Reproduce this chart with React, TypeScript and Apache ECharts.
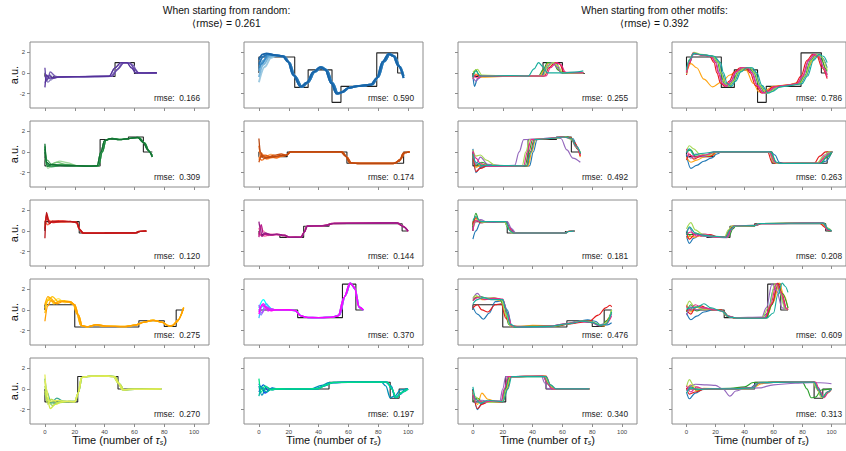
import React, { useEffect, useRef } from 'react';
import * as echarts from 'echarts';

type Pt = [number, number];

// ---------- tick values ----------
const X_TICKS = [0, 20, 40, 60, 80, 100];
const Y_TICKS = [-2, 0, 2];

// ---------- panel texts ----------
const titleLeft = ['When starting from random:', '\u27E8rmse\u27E9 = 0.261'];
const titleRight = ['When starting from other motifs:', '\u27E8rmse\u27E9 = 0.392'];
// rmse per row for columns 1..4
const rmseCol1 = ['0.166', '0.309', '0.120', '0.275', '0.270'];
const rmseCol2 = ['0.590', '0.174', '0.144', '0.370', '0.197'];
const rmseCol3 = ['0.255', '0.492', '0.181', '0.476', '0.340'];
const rmseCol4 = ['0.786', '0.263', '0.208', '0.609', '0.313'];

// ---------- target motifs (black step functions) ----------
const motif1a: Pt[] = [[0, 0], [0, -0.35], [47, -0.35], [47, 1.0], [60, 1.0], [60, -0.05], [75, -0.05]];
const motif1b: Pt[] = [[0, 0], [0, 1.55], [24, 1.55], [24, -1.4], [33, -1.4], [33, 0.3], [49, 0.3], [49, -2.85], [55, -2.85], [55, -1.3], [79, -1.3], [79, 1.95], [93, 1.95], [93, 0], [97, 0]];
const motif2a: Pt[] = [[0, 0], [0, -1.35], [37, -1.35], [37, 1.2], [56, 1.2], [56, 1.45], [66, 1.45], [66, 0], [72, 0]];
const motif2b: Pt[] = [[0, 0], [0, -0.45], [19, -0.45], [19, 0], [59, 0], [59, -1.1], [97, -1.1], [97, 0], [101, 0]];
const motif3a: Pt[] = [[0, 0], [0, 0.9], [23, 0.9], [23, -0.2], [62, -0.2], [62, -0.05], [68, -0.05]];
const motif3b: Pt[] = [[0, 0], [0, -0.35], [14, -0.35], [14, -0.62], [30, -0.62], [30, 0.45], [47, 0.45], [47, 0.7], [96, 0.7], [96, 0], [100, 0]];
const motif4a: Pt[] = [[0, 0], [0, 0.5], [20, 0.5], [20, -1.65], [63, -1.65], [63, -1.05], [80, -1.05], [80, -1.6], [88, -1.6], [88, 0], [93, 0]];
const motif4b: Pt[] = [[0, 0], [26, 0], [26, -0.75], [56, -0.75], [56, 2.5], [65, 2.5], [65, 0], [70, 0]];
const motif5a: Pt[] = [[0, 0], [0, -1.25], [22, -1.25], [22, 1.2], [49, 1.2], [49, 0], [78, 0]];
const motif5b: Pt[] = [[0, 0], [47, 0], [47, 0.65], [88, 0.65], [88, -0.9], [94, -0.9], [94, 0], [100, 0]];

// ---------- runs started from random states: early transients + settled paths ----------
const rand1aStarts: Pt[][] = [
  [[0, 0.1], [1.5, -0.5], [4, -0.2], [6, -0.5]],
  [[0, -1.0], [2, -0.3], [4, -0.7], [6, -0.4]],
  [[0, -0.3], [2, -0.9], [5, -0.5]],
  [[0, -0.6], [2, -0.6], [3.5, 0.1], [7, -0.3]],
  [[0, 0.5], [1, -0.8], [3, -0.2], [5, -0.55]],
  [[0, -1.4], [1, -0.2], [3, -0.5], [5, -0.45]],
];
const rand1aPaths: Pt[][] = [
  [[9, -0.42], [20, -0.38], [44, -0.33], [48, 0.25], [52, 0.95], [56, 1.0], [59, 0.75], [62, 0.05], [66, -0.05], [75, 0.0]],
  [[9, -0.4], [22, -0.36], [45, -0.33], [49, 0.4], [53, 1.0], [57, 0.95], [60, 0.4], [63, -0.02], [75, 0.0]],
  [[10, -0.38], [25, -0.35], [43, -0.32], [47, 0.5], [51, 1.0], [55, 1.0], [58, 0.5], [61, 0.0], [75, 0.02]],
];
const rand1aColors = ['#c4c2e0', '#a9a4d0', '#8d84c2', '#7a62b4', '#6446a6', '#55309a'];

const rand1bStarts: Pt[][] = [
  [[0, -0.9], [4, 0.6], [8, 1.45]],
  [[0, -0.4], [3, 0.8], [7, 1.55]],
  [[0, 0.2], [3, 1.2], [7, 1.7]],
  [[0, 0.5], [2, 0.9], [6, 1.75]],
  [[0, 0.8], [3, 1.6], [6, 1.85]],
  [[0, 1.3], [2.5, 1.8], [5, 1.9]],
];
const rand1bPaths: Pt[][] = [
  [[12, 1.7], [17, 1.6], [20.5, 1.0], [24, -0.3], [29, -1.35], [33, -0.9], [37.5, 0.1], [42, 0.55], [45.5, 0.3], [49.5, -1.0], [53, -2.0], [56, -1.85], [61, -1.4], [67, -1.27], [76, -1.12], [80, -0.4], [84, 1.1], [88, 1.85], [91, 1.6], [94.5, 0.6], [97, -0.3]],
  [[11, 1.72], [16, 1.62], [19.5, 1.1], [23, -0.2], [28, -1.35], [32, -0.95], [36.5, 0.1], [41, 0.55], [44.5, 0.3], [48.5, -1.0], [52, -2.0], [55, -1.9], [60, -1.45], [66, -1.28], [75, -1.15], [79, -0.5], [83, 1.1], [87, 1.85], [90, 1.65], [93.5, 0.7], [97, -0.5]],
];
const rand1bColors = ['#9ecae1', '#7bb7dc', '#5aa2d2', '#3a8bc6', '#2474b5', '#1864a8'];

const rand2aStarts: Pt[][] = [
  [[0, -0.6], [2, -1.6], [6, -1.1], [10, -0.9], [15, -1.05]],
  [[0, -0.2], [2, -1.3], [8, -1.0], [14, -1.2]],
  [[0, 0.6], [1.5, -0.8], [5, -1.3], [11, -1.2]],
  [[0, 0.5], [1, -1.2], [4, -1.45], [12, -1.3]],
  [[0, 0.3], [1.5, -1.4], [5, -1.2], [13, -1.35]],
  [[0, 0.8], [1, -1.0], [3, -1.2], [10, -1.3]],
];
const rand2aPaths: Pt[][] = [
  [[22, -1.35], [30, -1.38], [36, -1.34], [38.5, 0.0], [41, 1.15], [45, 1.32], [51, 1.22], [57, 1.32], [63, 1.4], [67, 0.85], [70, 0.0], [72, -0.35]],
  [[21, -1.33], [28, -1.38], [35, -1.36], [37.5, 0.0], [40, 1.1], [44, 1.3], [50, 1.2], [56, 1.3], [62, 1.42], [66, 0.9], [69, 0.2], [72, -0.5]],
];
const rand2aColors = ['#a1d99b', '#7cc67c', '#52b062', '#2f9950', '#1a843f', '#137034'];

const rand2bStarts: Pt[][] = [
  [[0, -0.8], [1.5, -0.1], [4, -0.5], [8, -0.25], [13, -0.5]],
  [[0, 0.1], [2, -0.2], [5, -0.7], [10, -0.5]],
  [[0, -0.5], [2, -0.8], [6, -0.4], [12, -0.6], [16, -0.3]],
  [[0, 0.6], [1.5, -0.5], [4, -0.3], [9, -0.55], [14, -0.4]],
  [[0, -1.0], [2, -0.3], [5, -0.6], [10, -0.3], [15, -0.2]],
  [[0, 1.3], [1, 0.0], [3, -0.6], [8, -0.5], [14, -0.35]],
];
const rand2bPaths: Pt[][] = [
  [[18.5, -0.3], [21.5, 0.02], [32, 0.0], [56, 0.0], [59, -0.5], [62, -1.08], [68, -1.1], [91, -1.1], [95, -0.7], [98, -0.05], [101, 0.0]],
  [[18, -0.35], [21, 0.0], [30, 0.0], [55, 0.02], [58, -0.4], [61, -1.05], [66, -1.12], [90, -1.12], [94, -0.9], [97, -0.1], [101, 0.0]],
];
const rand2bColors = ['#fdae6b', '#fd8d3c', '#f3701c', '#e05a0c', '#cc4f10', '#b84812'];

const rand3aStarts: Pt[][] = [
  [[0, 0.4], [1, 1.6], [3, 1.0], [7, 0.85]],
  [[0, 1.0], [2, 0.6], [5, 0.95], [12, 0.85]],
  [[0, 0.9], [1.5, 1.2], [4, 0.85], [9, 1.0]],
  [[0, 0.2], [1, 1.5], [2.5, 0.9], [6, 0.8], [12, 0.95]],
  [[0, -0.7], [1, 1.8], [3, 0.7], [5, 0.95], [10, 0.9]],
];
const rand3aPaths: Pt[][] = [
  [[18, 0.9], [21.5, 0.8], [23.5, 0.1], [26, -0.22], [40, -0.2], [61, -0.18], [64, -0.04], [68, 0.0]],
  [[17, 0.92], [21, 0.85], [23, 0.2], [25, -0.2], [30, -0.22], [60, -0.2], [63, -0.05], [68, -0.02]],
];
const rand3aColors = ['#fc9272', '#fb6a4a', '#ef3b2c', '#d42020', '#b8151a'];

const rand3bStarts: Pt[][] = [
  [[0, -0.5], [1, 0.4], [3, 0.0], [6, -0.45]],
  [[0, 0.3], [1.5, -0.4], [4, -0.5], [8, -0.3]],
  [[0, -0.2], [2, -0.5], [5, -0.25], [9, -0.4]],
  [[0, -0.6], [1.5, 0.6], [3, -0.3], [7, -0.4]],
  [[0, 0.9], [1, 0.2], [2, -0.5], [4, -0.2], [8, -0.35]],
];
const rand3bPaths: Pt[][] = [
  [[12, -0.3], [17, -0.4], [21, -0.62], [28.5, -0.6], [30.5, -0.1], [32.5, 0.48], [41, 0.5], [46, 0.55], [50, 0.74], [70, 0.76], [93, 0.78], [97, 0.4], [100, 0.0]],
  [[12, -0.35], [17, -0.45], [20, -0.6], [28, -0.62], [30, -0.2], [32, 0.45], [40, 0.5], [45, 0.55], [49, 0.72], [70, 0.75], [92, 0.78], [96, 0.5], [100, -0.05]],
];
const rand3bColors = ['#fa9fb5', '#f768a1', '#dd3497', '#b8188a', '#951c86'];

const rand4aStarts: Pt[][] = [
  [[0, 0.6], [2, 1.0], [5, 0.8], [9, 1.1], [13, 0.7]],
  [[0, 0.2], [3, 1.2], [6, 0.6], [10, 0.9]],
  [[0, -0.3], [2, 0.9], [5, 1.3], [9, 0.8], [13, 0.9]],
  [[0, 0.5], [2, 1.3], [4, 1.1], [7, 0.7], [12, 0.85]],
  [[0, -1.1], [2, 0.4], [4, 0.9], [8, 0.6], [12, 0.8]],
];
const rand4aPaths: Pt[][] = [
  [[17, 0.8], [20, 0.5], [22.5, -0.5], [25, -1.55], [29, -1.62], [35, -1.42], [41, -1.58], [53, -1.62], [61, -1.45], [67, -1.15], [73, -1.02], [79, -1.2], [83, -1.55], [86, -1.5], [89, -1.0], [93, 0.2]],
  [[16, 0.75], [19, 0.55], [21.5, -0.4], [24, -1.5], [28, -1.65], [34, -1.45], [40, -1.6], [52, -1.6], [60, -1.5], [66, -1.2], [72, -1.0], [78, -1.15], [82, -1.5], [85, -1.55], [88, -1.2], [93, 0.25]],
];
const rand4aColors = ['#ffe25a', '#ffd21a', '#ffbf00', '#ffac00', '#ff9d00'];

const rand4bStarts: Pt[][] = [
  [[0, 0.2], [3, 1.0], [6, 0.4], [9, 0.05]],
  [[0, -0.8], [2, 0.3], [5, 0.6], [8, 0.1]],
  [[0, 0.1], [1.5, -0.5], [4, 0.4], [8, 0.0]],
  [[0, 0.5], [2, -0.3], [5, 0.3], [8, 0.1]],
  [[0, -0.2], [3, 0.6], [6, -0.1], [8.5, 0.1]],
  [[0, -0.4], [2, 0.5], [5, 0.2], [8, -0.1]],
];
const rand4bPaths: Pt[][] = [
  [[11, 0.02], [20, 0.0], [24.5, -0.08], [28.5, -0.6], [33, -0.74], [41, -0.74], [49, -0.7], [54, -0.5], [58, 1.4], [61.5, 2.6], [64.5, 2.0], [67.5, 0.2], [70, 0.0]],
  [[11, 0.0], [20, 0.02], [24, -0.05], [28, -0.55], [32, -0.72], [40, -0.75], [48, -0.72], [53, -0.6], [57, 1.2], [61, 2.6], [64, 2.2], [67, 0.3], [70, 0.0]],
];
const rand4bColors = ['#00ffff', '#40c0ff', '#8080ff', '#b34cff', '#d926ff', '#ff00ff'];

const rand5aStarts: Pt[][] = [
  [[0, 1.0], [1.5, -0.3], [4, -1.4], [8, -0.9], [13, -1.25]],
  [[0, -0.5], [2, -1.0], [6, -1.4], [11, -1.15]],
  [[0, 0.3], [2, -1.2], [5, -1.6], [9, -1.3]],
  [[0, -0.2], [2, -1.5], [4, -1.0], [9, -1.35]],
  [[0, 0.8], [1.5, -0.8], [3.5, -1.9], [7, -1.5], [12, -1.2]],
  [[0, 1.4], [1, 0.0], [3, -1.2], [8, -1.1], [14, -1.2]],
];
const rand5aPaths: Pt[][] = [
  [[17, -1.22], [20.5, -1.2], [22.5, -0.3], [25, 1.15], [31, 1.22], [41, 1.28], [47, 1.2], [50, 0.5], [53, -0.08], [60, -0.03], [78, 0.0]],
  [[16, -1.2], [20, -1.25], [22, -0.5], [24.5, 1.1], [30, 1.25], [40, 1.25], [46, 1.2], [49, 0.6], [52, -0.1], [56, -0.05], [78, 0.0]],
];
const rand5aColors = ['#3aa88e', '#6cc47a', '#9ad65e', '#bde24e', '#d3e84a', '#e2ec5a'];

const rand5bStarts: Pt[][] = [
  [[0, 0.5], [2, 0.1], [4, -0.4], [8, 0.0]],
  [[0, -0.3], [3, 0.4], [6, -0.15], [9, 0.1]],
  [[0, 0.3], [2, -0.6], [5, 0.2], [9, -0.1]],
  [[0, -0.7], [2, 0.2], [5, -0.3], [9, 0.05]],
  [[0, 1.0], [1.5, -0.3], [4, 0.3], [8, -0.1]],
];
const rand5bPaths: Pt[][] = [
  [[12, -0.05], [22, -0.02], [38, 0.0], [44, 0.3], [49, 0.62], [62, 0.66], [85, 0.66], [88.5, 0.3], [91.5, -0.85], [95, -0.5], [98, -0.05], [100, 0.0]],
  [[12, 0.02], [24, 0.0], [40, 0.02], [45, 0.4], [50, 0.63], [70, 0.66], [86, 0.66], [89, 0.0], [92, -0.85], [96, -0.3], [100, 0.0]],
  [[12, 0.0], [20, -0.05], [35, 0.0], [42, 0.35], [47, 0.6], [60, 0.65], [82, 0.68], [85, 0.3], [88, -0.85], [91, -0.7], [95, -0.1], [100, 0.0]],
];
const rand5bColors = ['#0022ff', '#0060d0', '#0090b8', '#00b8a0', '#00e088'];

// ---------- runs started from other motifs (one line per starting motif) ----------
// colour order: blue, orange, green, red, purple, yellow-green, magenta, teal
const motifColors = ['#1f77b4', '#ffa514', '#2ca02c', '#e41a1c', '#9467bd', '#a6d854', '#e7298a', '#17ad9c'];

const other1a: Pt[][] = [
  [[0, -0.3], [1, -1.3], [3, -0.6], [6, -0.35], [20, -0.32], [46, -0.3], [49, 0.4], [53, 1.0], [56, 0.9], [59, 0.1], [62, 0.0], [74, 0.0]],
  [[0, -0.5], [2, -0.1], [5, -0.4], [20, -0.35], [45, -0.3], [48, 0.4], [51, 1.0], [55, 1.0], [58, 0.2], [61, 0.0], [74, 0.0]],
  [[0, -0.2], [2, 0.3], [4, -0.2], [8, -0.35], [30, -0.3], [44, -0.3], [47, 0.3], [50, 1.0], [54, 1.0], [57, 0.3], [60, 0.0], [74, 0.0]],
  [[0, -0.6], [2, -0.2], [6, -0.3], [30, -0.3], [48, -0.3], [51, 0.5], [55, 1.0], [58, 0.9], [61, 0.1], [64, 0.0], [74, 0.0]],
  [[0, -0.4], [2, -0.8], [5, -0.3], [25, -0.3], [47, -0.3], [50, 0.7], [53, 1.0], [57, 0.5], [59, 0.0], [74, 0.0]],
  [[0, 0.1], [3, 0.35], [6, -0.2], [25, -0.3], [47, -0.3], [50, 0.6], [54, 1.0], [57, 0.7], [60, 0.0], [74, 0.0]],
  [[0, -0.1], [3, -0.5], [7, -0.3], [30, -0.3], [49, -0.3], [52, 0.5], [56, 1.0], [59, 0.8], [62, 0.05], [74, 0.02]],
  [[0, -0.4], [2, 0.2], [5, -0.3], [10, -0.3], [25, -0.25], [37, -0.3], [41, 0.4], [44, 1.0], [47, 0.6], [50, 0.0], [60, 0.0], [70, 0.1], [74, 0.2]],
];

const other1b: Pt[][] = [
  [[0, 0.3], [2, 1.0], [5, 1.85], [10, 1.78], [18.5, 1.62], [22.5, 1.0], [24.5, 0.0], [27, -1.0], [30, -1.3], [33, -0.8], [36.5, 0.1], [40.5, 0.5], [44.5, 0.5], [47.5, 0.0], [51, -1.2], [55.5, -1.95], [58.5, -1.8], [63.5, -1.35], [71.5, -1.2], [78.5, -1.05], [82.5, -0.3], [86.5, 1.2], [90.5, 1.8], [93.5, 1.5], [97, 0.5]],
  [[0, 0.0], [3, 0.9], [7, 0.5], [12, -0.6], [18, -1.35], [24, -0.9], [30, -0.2], [36, 0.3], [41, 0.3], [46, -1.0], [50, -1.85], [54, -1.7], [60, -1.3], [70, -1.15], [78, -0.9], [84, 0.6], [89, 1.8], [93, 1.2], [97, -0.2]],
  [[0, 0.2], [2, 1.2], [5, 1.9], [10, 1.78], [18, 1.62], [21.5, 1.0], [23.5, 0.0], [26, -1.0], [29, -1.3], [32, -0.8], [35.5, 0.1], [39.5, 0.5], [43.5, 0.5], [46.5, 0.0], [50, -1.2], [54.5, -1.95], [57.5, -1.8], [62.5, -1.35], [70.5, -1.2], [77.5, -1.05], [81.5, -0.3], [85.5, 1.2], [89.5, 1.8], [92.5, 1.6], [96, 0.4], [97, 0.15]],
  [[0, -0.2], [2, 0.9], [4.5, 1.9], [10, 1.75], [16, 1.62], [19, 1.0], [21, 0.0], [23.5, -1.0], [26.5, -1.3], [29.5, -0.8], [33, 0.1], [37, 0.5], [41, 0.5], [44, 0.0], [47.5, -1.2], [52, -1.95], [55, -1.8], [60, -1.35], [68, -1.2], [75, -1.05], [79, -0.3], [83, 1.2], [87, 1.8], [90, 1.6], [93.5, 0.5], [97, -0.55]],
  [[0, 0.1], [2, 1.1], [5, 1.9], [10, 1.78], [17, 1.62], [20.5, 1.0], [22.5, 0.0], [25, -1.0], [28, -1.3], [31, -0.8], [34.5, 0.1], [38.5, 0.5], [42.5, 0.5], [45.5, 0.0], [49, -1.2], [53.5, -1.95], [56.5, -1.8], [61.5, -1.35], [69.5, -1.2], [76.5, -1.05], [80.5, -0.3], [84.5, 1.2], [88.5, 1.8], [91.5, 1.6], [95, 0.4], [97, -0.2]],
  [[0, -0.1], [2, 1.3], [5, 2.0], [10, 1.8], [18, 1.62], [22, 1.0], [24, 0.0], [26.5, -1.0], [29.5, -1.3], [32.5, -0.8], [36, 0.1], [40, 0.5], [44, 0.5], [47, 0.0], [50.5, -1.2], [55, -1.95], [58, -1.8], [63, -1.35], [71, -1.2], [78, -1.05], [82, -0.3], [86, 1.2], [90, 1.8], [93, 1.55], [97, 0.3]],
  [[0, 0.0], [2, 1.0], [4.5, 1.92], [10, 1.75], [17, 1.62], [20, 1.0], [22, 0.0], [24.5, -1.0], [27.5, -1.3], [30.5, -0.8], [34, 0.1], [38, 0.5], [42, 0.5], [45, 0.0], [48.5, -1.2], [53, -1.95], [56, -1.8], [61, -1.35], [69, -1.2], [76, -1.05], [80, -0.3], [84, 1.2], [88, 1.8], [91, 1.6], [94.5, 0.5], [97, -0.4]],
  [[0, 0.3], [2, 1.3], [5, 1.9], [10, 1.78], [19, 1.62], [23.5, 1.0], [25.5, 0.0], [28, -1.0], [31, -1.3], [34, -0.8], [37.5, 0.1], [41.5, 0.5], [45.5, 0.5], [48.5, 0.0], [52, -1.2], [56.5, -1.95], [59.5, -1.8], [64.5, -1.35], [72.5, -1.2], [79.5, -1.05], [83.5, -0.3], [87.5, 1.2], [91.5, 1.8], [94.5, 1.6], [97, 1.0]],
];

const other2a: Pt[][] = [
  [[0, 0.3], [2, -2.0], [5, -1.5], [12, -1.3], [38, -1.35], [40.5, 0.0], [43, 1.2], [55, 1.35], [63, 1.45], [67, 1.3], [70, 0.5], [72, -0.2]],
  [[0, -0.3], [2, -1.5], [6, -1.2], [14, -1.35], [37, -1.35], [39.5, 0.0], [42, 1.2], [52, 1.3], [62, 1.45], [66, 1.35], [69, 0.6], [72, -0.5]],
  [[0, -0.1], [2, -1.3], [6, -1.0], [12, -1.35], [35, -1.35], [37.5, 0.0], [40, 1.2], [50, 1.3], [58, 1.4], [64, 1.45], [67, 1.1], [70, 0.3], [72, -0.2]],
  [[0, 0.0], [2, -1.9], [5, -1.6], [10, -1.3], [36, -1.35], [38.5, 0.0], [41, 1.2], [52, 1.3], [60, 1.45], [65, 1.4], [68, 0.9], [72, -0.4]],
  [[0, 0.0], [2, -1.2], [5, -0.5], [10, -1.2], [20, -1.35], [28, -1.3], [31, 0.0], [34, 1.2], [45, 1.3], [55, 1.4], [59, 1.3], [63, 0.2], [67, -0.6], [72, -1.0]],
  [[0, 0.2], [2, -0.4], [5, -0.3], [9, -0.8], [15, -1.3], [33, -1.35], [35.5, 0.0], [38, 1.2], [48, 1.3], [56, 1.35], [62, 1.45], [66, 1.2], [69, 0.5], [72, 0.0]],
  [[0, 0.1], [2, -0.6], [5, -1.1], [10, -1.4], [34, -1.35], [36.5, 0.0], [39, 1.2], [50, 1.3], [60, 1.45], [66, 1.3], [69, 0.5], [72, -0.3]],
  [[0, -0.2], [2, -1.0], [6, -1.3], [36, -1.35], [39, 0.0], [41.5, 1.2], [52, 1.3], [61, 1.45], [66, 1.3], [69, 0.6], [72, -0.1]],
];

const other2b: Pt[][] = [
  [[0, -0.3], [3, -1.6], [7, -1.3], [12, -0.9], [17, -0.6], [21, -0.2], [24, 0.0], [58, 0.0], [61, -0.3], [64, -1.0], [67, -1.12], [92, -1.1], [96, -0.9], [100, -0.1]],
  [[0, -0.5], [3, -1.0], [7, -0.8], [12, -0.5], [18, -0.35], [21, 0.0], [58, 0.0], [61, -1.0], [64, -1.12], [90, -1.1], [95, -0.6], [99, 0.0]],
  [[0, 0.0], [3, 0.2], [6, -0.4], [13, -0.35], [20, 0.0], [58, 0.0], [62, -1.0], [65, -1.1], [92, -1.1], [97, -0.5], [100, -0.1]],
  [[0, -0.8], [2, -0.2], [5, -0.7], [10, -0.4], [17, -0.4], [20, 0.0], [56, 0.0], [59, -1.0], [62, -1.12], [88, -1.1], [92, -0.4], [96, 0.0], [100, 0.0]],
  [[0, -0.2], [3, -0.6], [6, -0.2], [12, -0.45], [19, 0.0], [57, 0.0], [60, -0.9], [63, -1.12], [91, -1.1], [95, -0.3], [99, 0.0]],
  [[0, 0.1], [2, 0.6], [5, 0.3], [9, -0.2], [15, -0.35], [20, 0.0], [57, 0.0], [60, -1.0], [63, -1.12], [90, -1.1], [94, -0.5], [98, 0.0], [100, 0.0]],
  [[0, 0.3], [2, -0.3], [6, -0.5], [12, -0.3], [20, 0.0], [57, 0.0], [61, -1.0], [64, -1.1], [91, -1.1], [96, -0.4], [100, 0.0]],
  [[0, -0.1], [2, 0.3], [5, -0.3], [10, -0.15], [20, 0.0], [58, 0.0], [62, -1.0], [65, -1.12], [93, -1.1], [97, -0.4], [100, 0.0]],
];

const other3a: Pt[][] = [
  [[0, -0.8], [2, 0.0], [5, 0.8], [10, 0.9], [22, 0.9], [25, 0.3], [28, -0.2], [40, -0.2], [62, -0.2], [64, -0.05], [68, 0.0]],
  [[0, 0.8], [2, 1.2], [5, 0.85], [12, 0.92], [21, 0.9], [24, 0.4], [27, -0.2], [45, -0.2], [62, -0.2], [64, -0.04], [68, -0.02]],
  [[0, 0.4], [2, 1.7], [4, 1.0], [8, 0.85], [21, 0.9], [24, 0.2], [27, -0.2], [45, -0.21], [62, -0.2], [64, -0.05], [68, 0.0]],
  [[0, 0.6], [2, 1.3], [5, 0.8], [12, 0.92], [22, 0.9], [25, 0.1], [28, -0.2], [45, -0.2], [62, -0.18], [64, -0.04], [68, 0.0]],
  [[0, 0.2], [2, 0.9], [5, 1.1], [10, 0.85], [23, 0.9], [26, 0.2], [29, -0.22], [45, -0.2], [62, -0.2], [64, -0.05], [68, 0.0]],
  [[0, 0.5], [3, 1.1], [6, 0.85], [14, 0.92], [21, 0.9], [23.5, 0.4], [26, -0.2], [45, -0.2], [62, -0.2], [64, -0.05], [68, 0.0]],
  [[0, 0.0], [1.5, 1.0], [4, 0.95], [10, 0.88], [22, 0.92], [24.5, 0.3], [27.5, -0.2], [45, -0.2], [62, -0.2], [64, -0.05], [68, -0.02]],
  [[0, 1.0], [2, 1.4], [5, 0.9], [12, 0.9], [22, 0.9], [25, 0.0], [27, -0.2], [45, -0.2], [62, -0.2], [64, -0.05], [68, 0.0]],
];

const other3b: Pt[][] = [
  [[0, -0.5], [2, -1.2], [5, -0.7], [10, -0.3], [16, -0.45], [22, -0.62], [28, -0.6], [30, 0.0], [33, 0.48], [46, 0.5], [50, 0.72], [90, 0.75], [94, 0.7], [97, 0.2], [100, 0.0]],
  [[0, -0.7], [3, -0.5], [6, -0.6], [12, -0.35], [20, -0.55], [27, -0.62], [30, 0.2], [32, 0.5], [47, 0.5], [50, 0.72], [93, 0.76], [96, 0.3], [99, 0.0]],
  [[0, 0.0], [2, -0.4], [6, -0.2], [12, -0.5], [20, -0.55], [29, -0.62], [32, 0.2], [34, 0.5], [48, 0.55], [52, 0.72], [95, 0.76], [98, 0.0], [100, 0.0]],
  [[0, -0.2], [2, -0.8], [6, -0.3], [10, -0.5], [16, -0.35], [22, -0.6], [27, -0.6], [29, 0.0], [32, 0.45], [46, 0.5], [49, 0.7], [92, 0.76], [95, 0.4], [99, 0.0]],
  [[0, -0.1], [2, 0.3], [5, -0.3], [10, -0.45], [18, -0.6], [28, -0.65], [31, 0.1], [33, 0.5], [46, 0.5], [50, 0.7], [94, 0.78], [98, 0.2], [100, 0.0]],
  [[0, 0.2], [3, 0.8], [6, 0.1], [11, -0.3], [18, -0.55], [26, -0.62], [29, 0.1], [31, 0.45], [47, 0.52], [50, 0.72], [93, 0.76], [97, 0.3], [100, 0.0]],
  [[0, -0.3], [3, -0.1], [7, -0.5], [13, -0.3], [20, -0.6], [28, -0.6], [31, 0.2], [33, 0.5], [48, 0.55], [51, 0.72], [94, 0.78], [97, 0.1], [100, 0.0]],
  [[0, -0.4], [2, 0.4], [6, -0.2], [11, -0.4], [18, -0.5], [27, -0.6], [30, 0.1], [33, 0.48], [47, 0.52], [50, 0.72], [94, 0.77], [98, 0.15], [100, 0.0]],
];

const other4a: Pt[][] = [
  [[0, 0.3], [3, -0.4], [7, -0.9], [11, -0.3], [15, 0.8], [20, 0.9], [23, 0.0], [26, -1.5], [30, -1.65], [55, -1.6], [63, -1.35], [70, -1.1], [77, -0.95], [82, -1.1], [86, -1.5], [90, -1.45], [93, -1.25]],
  [[0, 1.0], [3, 1.3], [6, 1.0], [12, 1.1], [19, 0.9], [22, -0.6], [25, -1.5], [30, -1.62], [40, -1.5], [55, -1.55], [65, -1.3], [72, -1.1], [78, -1.1], [84, -1.45], [88, -1.55], [91, -0.8], [93, -0.3]],
  [[0, 0.9], [2, 1.2], [5, 1.3], [10, 1.1], [18, 1.05], [21, 0.3], [24, -1.4], [28, -1.65], [40, -1.6], [55, -1.6], [66, -1.3], [74, -1.1], [80, -1.25], [86, -1.55], [90, -1.0], [93, 0.0]],
  [[0, 0.2], [3, 0.5], [6, 0.0], [10, -0.2], [15, 0.5], [19, 0.6], [22, -0.8], [26, -1.6], [40, -1.6], [55, -1.55], [65, -1.35], [72, -1.2], [78, -1.1], [84, -0.5], [89, 0.2], [92, 0.45], [93, 0.3]],
  [[0, 1.1], [3, 1.6], [6, 1.2], [12, 1.15], [20, 1.0], [23, -0.2], [26, -1.5], [30, -1.65], [50, -1.6], [64, -1.3], [72, -1.1], [79, -1.2], [84, -1.5], [89, -1.3], [93, -0.4]],
  [[0, 1.2], [2, 1.4], [6, 1.1], [14, 1.2], [19, 1.0], [22, -0.4], [25, -1.55], [30, -1.6], [52, -1.6], [65, -1.3], [72, -1.1], [80, -1.15], [86, -1.5], [90, -1.2], [93, 0.0]],
  [[0, 0.9], [3, 1.2], [8, 1.0], [14, 1.15], [20, 1.05], [23, -0.3], [26, -1.55], [31, -1.62], [50, -1.6], [64, -1.3], [72, -1.15], [80, -1.2], [85, -1.55], [89, -1.4], [93, -0.6]],
  [[0, 0.6], [3, 1.0], [7, 1.2], [12, 1.0], [20, 1.0], [22, 0.1], [25, -1.4], [29, -1.65], [50, -1.6], [66, -1.3], [73, -1.1], [80, -1.2], [85, -1.5], [89, -1.4], [93, -0.2]],
];

const other4b: Pt[][] = [
  [[0, -0.3], [3, -0.95], [7, -0.6], [12, -0.2], [18, 0.0], [24, -0.05], [28, -0.6], [33, -0.75], [52, -0.75], [56, -0.3], [60, 2.0], [62, 2.55], [65, 1.5], [68, 0.2], [70, 0.05]],
  [[0, 0.5], [3, -0.2], [7, 0.3], [12, 0.1], [20, 0.0], [25, -0.1], [29, -0.65], [34, -0.8], [55, -0.75], [60, 0.8], [64, 2.6], [67, 1.5], [70, 0.15]],
  [[0, -0.2], [3, 0.5], [7, -0.1], [12, 0.2], [20, 0.0], [25, -0.05], [29, -0.62], [34, -0.8], [55, -0.75], [59, 0.5], [63, 2.5], [66, 1.6], [70, 0.2]],
  [[0, 0.0], [3, -0.4], [6, 0.2], [10, 0.4], [16, 0.05], [24, 0.0], [28, -0.6], [34, -0.8], [54, -0.75], [59, 0.6], [63, 2.6], [66, 1.5], [69, 0.1], [70, 0.0]],
  [[0, -0.5], [3, 0.3], [7, 0.0], [12, 0.2], [20, 0.0], [25, -0.1], [28, -0.6], [33, -0.75], [52, -0.7], [55, 0.2], [59, 2.5], [62, 1.9], [66, 0.2], [70, 0.0]],
  [[0, 0.2], [2, 0.85], [5, 0.4], [10, 0.1], [18, 0.05], [24, -0.05], [28, -0.6], [34, -0.78], [52, -0.75], [57, 0.3], [61, 2.55], [64, 1.9], [68, 0.1], [70, 0.0]],
  [[0, 0.4], [2, 0.0], [6, 0.5], [11, 0.2], [20, 0.0], [25, -0.1], [29, -0.6], [34, -0.78], [54, -0.75], [58, 0.5], [62, 2.55], [65, 1.7], [69, 0.1], [70, 0.0]],
  [[0, 0.1], [3, 0.2], [8, 0.3], [12, 0.6], [17, 0.2], [24, -0.1], [30, -0.7], [36, -0.8], [55, -0.8], [60, -0.3], [63, 1.5], [66, 2.6], [68, 2.3], [70, 1.7]],
];

const other5a: Pt[][] = [
  [[0, 0.0], [3, -2.0], [6, -1.4], [12, -1.2], [19, -1.2], [21.5, 0.0], [24, 1.2], [47, 1.25], [50, 0.5], [53, 0.0], [78, 0.0]],
  [[0, -0.5], [3, -1.5], [6, -0.4], [10, -1.0], [16, -1.25], [20, -1.2], [22.5, 0.0], [25, 1.2], [48, 1.25], [51, 0.5], [54, 0.0], [78, 0.0]],
  [[0, -1.2], [3, -0.9], [7, -1.3], [14, -1.2], [20, -1.2], [22, 0.0], [24.5, 1.2], [48, 1.2], [51, 0.4], [54, 0.0], [78, 0.0]],
  [[0, -0.1], [3, -1.9], [6, -1.5], [11, -1.2], [20, -1.25], [23, 0.0], [25.5, 1.2], [49, 1.25], [52, 0.4], [55, -0.05], [78, 0.0]],
  [[0, -0.3], [2, -1.3], [6, -1.1], [12, -1.25], [18, -1.2], [20, 0.0], [22, 1.2], [46, 1.25], [48, 0.6], [50, 0.0], [78, 0.0]],
  [[0, -0.2], [2, -0.8], [5, -1.2], [11, -1.3], [20, -1.2], [22.5, 0.0], [25, 1.2], [48, 1.25], [51, 0.5], [54, 0.0], [78, 0.0]],
  [[0, -0.6], [3, -1.1], [7, -1.3], [13, -1.15], [19, -1.2], [21, 0.0], [23.5, 1.2], [47, 1.25], [50, 0.5], [53, 0.0], [78, 0.0]],
  [[0, 0.2], [2, -1.0], [5, -1.4], [10, -1.1], [20, -1.25], [23.5, 0.0], [26, 1.2], [49, 1.2], [52, 0.4], [56, 0.0], [78, 0.0]],
];

const other5b: Pt[][] = [
  [[0, -0.3], [2, -0.95], [6, -0.4], [12, 0.0], [30, 0.0], [44, 0.1], [49, 0.6], [70, 0.66], [88, 0.66], [91, 0.1], [94, -0.85], [97, -0.4], [100, 0.0]],
  [[0, -0.1], [3, 0.4], [7, -0.2], [12, 0.05], [30, 0.0], [45, 0.05], [52, 0.5], [56, 0.64], [88, 0.66], [91, -0.1], [94, -0.85], [97, -0.4], [100, 0.0]],
  [[0, 0.0], [3, 0.2], [7, -0.1], [14, 0.0], [30, 0.05], [40, 0.2], [46, 0.62], [70, 0.68], [80, 0.65], [83, 0.0], [86, -0.85], [89, -0.8], [93, -0.1], [100, 0.0]],
  [[0, 0.1], [2, -0.5], [6, -0.3], [12, -0.05], [30, 0.0], [45, 0.1], [51, 0.6], [70, 0.66], [88, 0.66], [91, -0.2], [94, -0.85], [97, -0.3], [100, 0.0]],
  [[0, -0.2], [3, 0.3], [6, 0.45], [14, 0.4], [20, 0.35], [25, 0.0], [30, -0.7], [34, -0.2], [40, 0.05], [50, 0.1], [60, 0.4], [75, 0.55], [85, 0.6], [92, 0.6], [100, 0.5]],
  [[0, 0.2], [2, 0.9], [5, 0.3], [10, 0.0], [30, 0.0], [45, 0.05], [50, 0.6], [70, 0.66], [87, 0.66], [90, 0.0], [93, -0.85], [96, -0.5], [100, 0.0]],
  [[0, 0.3], [3, -0.3], [7, 0.2], [12, 0.0], [30, 0.0], [45, 0.1], [50, 0.6], [70, 0.66], [89, 0.66], [92, -0.2], [95, -0.85], [98, -0.3], [100, 0.0]],
  [[0, -0.4], [3, 0.1], [8, -0.05], [15, 0.0], [30, 0.0], [46, 0.1], [50, 0.6], [70, 0.66], [88, 0.66], [91, -0.1], [94, -0.8], [97, -0.3], [100, 0.0]],
];

// ---------- layout ----------
const COL_LEFT = [30, 244, 458, 672];
const ROW_TOP = [42, 121, 200, 279, 358];
const PW = 179;
const PH = 66;
const FONT = '"Liberation Sans", Arial, sans-serif';

const motifsLeft = [motif1a, motif2a, motif3a, motif4a, motif5a];
const motifsRight = [motif1b, motif2b, motif3b, motif4b, motif5b];
const randLeft: [Pt[][], Pt[][], string[]][] = [
  [rand1aStarts, rand1aPaths, rand1aColors],
  [rand2aStarts, rand2aPaths, rand2aColors],
  [rand3aStarts, rand3aPaths, rand3aColors],
  [rand4aStarts, rand4aPaths, rand4aColors],
  [rand5aStarts, rand5aPaths, rand5aColors],
];
const randRight: [Pt[][], Pt[][], string[]][] = [
  [rand1bStarts, rand1bPaths, rand1bColors],
  [rand2bStarts, rand2bPaths, rand2bColors],
  [rand3bStarts, rand3bPaths, rand3bColors],
  [rand4bStarts, rand4bPaths, rand4bColors],
  [rand5bStarts, rand5bPaths, rand5bColors],
];
const otherLeft = [other1a, other2a, other3a, other4a, other5a];
const otherRight = [other1b, other2b, other3b, other4b, other5b];
const rmseByCol = [rmseCol1, rmseCol2, rmseCol3, rmseCol4];

export default function App() {
  const ref = useRef<HTMLDivElement>(null);

  useEffect(() => {
    if (!ref.current) return;
    const chart = echarts.init(ref.current, null, { renderer: 'svg' });

    const grid: any[] = [];
    const xAxis: any[] = [];
    const yAxis: any[] = [];
    const series: any[] = [];
    const graphic: any[] = [];

    for (let r = 0; r < 5; r++) {
      for (let c = 0; c < 4; c++) {
        const idx = grid.length;
        const left = COL_LEFT[c];
        const top = ROW_TOP[r];
        grid.push({
          left, top, width: PW, height: PH,
          show: true, borderColor: '#8c8c8c', borderWidth: 1, backgroundColor: '#fff',
        });
        xAxis.push({
          type: 'value', gridIndex: idx, min: -10, max: 110, position: 'bottom',
          axisLine: { show: false, onZero: false }, splitLine: { show: false },
          axisTick: { show: true, inside: false, length: 3, lineStyle: { color: '#8c8c8c', width: 1 }, customValues: X_TICKS },
          axisLabel: { show: r === 4, customValues: X_TICKS, fontSize: 6, color: '#444', margin: 5, fontFamily: FONT },
        });
        yAxis.push({
          type: 'value', gridIndex: idx, min: -3.4, max: 3.0, position: 'left',
          axisLine: { show: false, onZero: false }, splitLine: { show: false },
          axisTick: { show: true, inside: false, length: 3, lineStyle: { color: '#8c8c8c', width: 1 }, customValues: Y_TICKS },
          axisLabel: { show: c === 0, customValues: Y_TICKS, fontSize: 6, color: '#444', margin: 5, fontFamily: FONT },
        });

        const target = c % 2 === 0 ? motifsLeft[r] : motifsRight[r];
        series.push({
          type: 'line', xAxisIndex: idx, yAxisIndex: idx, data: target,
          showSymbol: false, silent: true, z: 2,
          lineStyle: { color: '#222', width: 1.1 },
        });

        if (c < 2) {
          const [starts, paths, colors] = c === 0 ? randLeft[r] : randRight[r];
          starts.forEach((head, i) => {
            const line = head.concat(paths[i % paths.length]);
            series.push({
              type: 'line', xAxisIndex: idx, yAxisIndex: idx, data: line,
              showSymbol: false, silent: true, z: 3,
              smooth: 0.35, smoothMonotone: 'x',
              lineStyle: { color: colors[i % colors.length], width: r === 0 && c === 1 ? 1.9 : 1.3 },
            });
          });
        } else {
          const lines = c === 2 ? otherLeft[r] : otherRight[r];
          lines.forEach((line, i) => {
            series.push({
              type: 'line', xAxisIndex: idx, yAxisIndex: idx, data: line,
              showSymbol: false, silent: true, z: 3,
              smooth: 0.35, smoothMonotone: 'x',
              lineStyle: { color: motifColors[i % motifColors.length], width: 1.15 },
            });
          });
        }

        graphic.push({
          type: 'text', x: left + PW - 9, y: top + PH - 10, z: 10,
          style: {
            text: 'rmse:  ' + rmseByCol[c][r], fill: '#222', fontSize: 8.3, fontFamily: FONT,
            align: 'right', verticalAlign: 'middle',
          },
        });

        if (c === 0) {
          graphic.push({
            type: 'text', x: 14, y: top + 33, rotation: Math.PI / 2, z: 10,
            style: { text: 'a.u.', fill: '#111', fontSize: 11, fontFamily: FONT, align: 'center', verticalAlign: 'middle' },
          });
        }
        if (r === 4) {
          graphic.push({
            type: 'text', x: left + PW / 2, y: 440, z: 10,
            style: {
              text: '{n|Time (number of }{t|\u03C4}{s|s}{n|)}',
              align: 'center', verticalAlign: 'middle', fill: '#111',
              rich: {
                n: { fontSize: 11, fontFamily: FONT, fill: '#111' },
                t: { fontSize: 11, fontFamily: FONT, fontStyle: 'italic', fill: '#111' },
                s: { fontSize: 7, fontFamily: FONT, fontStyle: 'italic', fill: '#111', verticalAlign: 'bottom' },
              },
            },
          });
        }
      }
    }

    const titles: [string[], number][] = [
      [titleLeft, (COL_LEFT[0] + COL_LEFT[1] + PW) / 2],
      [titleRight, (COL_LEFT[2] + COL_LEFT[3] + PW) / 2],
    ];
    titles.forEach(([lines, cx]) => {
      lines.forEach((t, k) => {
        graphic.push({
          type: 'text', x: cx, y: 10 + k * 13, z: 10,
          style: { text: t, fill: '#111', fontSize: 10.3, fontFamily: FONT, align: 'center', verticalAlign: 'middle' },
        });
      });
    });

    chart.setOption({
      animation: false,
      backgroundColor: '#fff',
      grid, xAxis, yAxis, series, graphic,
    });

    return () => chart.dispose();
  }, []);

  return <div ref={ref} style={{ position: 'absolute', left: 0, top: 0, width: 846, height: 451 }} />;
}
